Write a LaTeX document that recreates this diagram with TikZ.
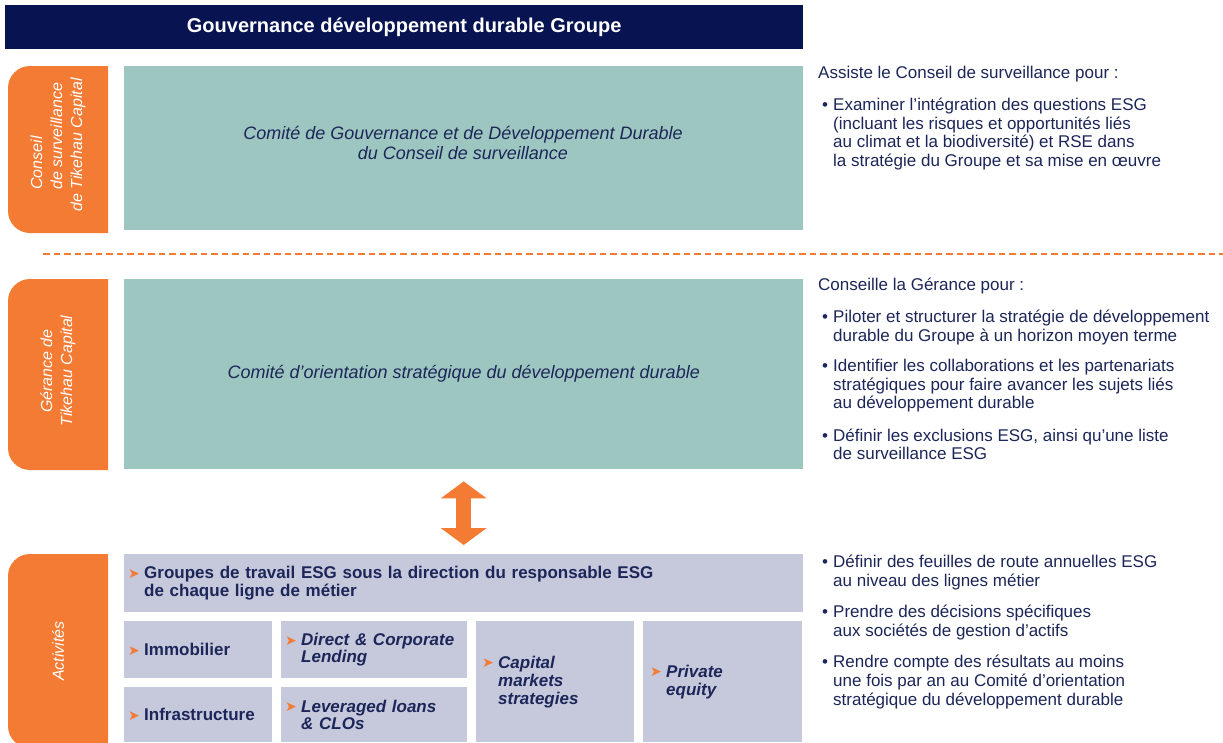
\documentclass[tikz,border=0pt]{standalone}
\usepackage{fontspec}
\setmainfont{Liberation Sans}
\newfontfamily\dejavu{DejaVu Sans}
\usetikzlibrary{arrows.meta}
\definecolor{navy}{RGB}{8,20,82}
\definecolor{torange}{RGB}{244,123,52}
\definecolor{tealbg}{RGB}{158,198,193}
\definecolor{lav}{RGB}{198,200,220}
\definecolor{ink}{RGB}{28,38,88}
\newcommand{\mk}{\makebox[16pt][l]{\raisebox{0.5pt}{\dejavu\fontsize{14}{14}\selectfont\color{torange}➤}}}
\newcommand{\bul}{\makebox[15pt][l]{\hspace*{4pt}•}}
\newcommand{\hind}{\hspace*{15pt}}
\begin{document}
\begin{tikzpicture}[x=1pt,y=-1pt,
  titlebar/.style={fill=navy,text=white,font=\fontsize{20}{22}\selectfont\bfseries,minimum width=798pt,minimum height=44pt,anchor=north west,inner sep=0pt},
  tealbox/.style={fill=tealbg,minimum width=679pt,anchor=north west,inner sep=0pt},
  tealtext/.style={text=ink,font=\fontsize{18}{20}\selectfont\itshape,align=center,inner sep=0pt},
  tablabel/.style={text=white,font=\fontsize{16}{20}\selectfont\itshape,rotate=90,inner sep=0pt},
  graybox/.style={fill=lav,anchor=north west,inner ysep=0pt,align=left,text=ink,font=\fontsize{17}{18}\selectfont\bfseries},
  desc/.style={text=ink,font=\fontsize{17}{18.5}\selectfont,align=left,inner sep=0pt,anchor=north west},
  sep/.style={torange,line width=2.6pt,dash pattern=on 6.5pt off 4pt},
  dblarrow/.style={torange,line width=15pt,
    {Triangle[width=46pt 0 0,length=17pt 0 0,line width=0pt]}-{Triangle[width=46pt 0 0,length=17pt 0 0,line width=0pt]}}
]
\useasboundingbox (0,0) rectangle (1223,742);
\fill[white] (0,0) rectangle (1223,742);

% title
\node[titlebar] (title) at (5,5) {Gouvernance développement durable Groupe};

% orange tabs
\begin{scope}
\clip (0,0) rectangle (108,742);
\fill[torange, rounded corners=22pt] (8,66) rectangle (140,233);
\fill[torange, rounded corners=22pt] (8,279) rectangle (140,470);
\fill[torange, rounded corners=22pt] (8,554) rectangle (140,748);
\end{scope}
\node[tablabel,align=left] (tab1) at (58,145) {\hspace*{22pt}Conseil\\\hspace*{22pt}de surveillance\\de Tikehau Capital};
\node[tablabel,align=center] (tab2) at (58,371) {Gérance de\\Tikehau Capital};
\node[tablabel] (tab3) at (58,651) {Activités};

% teal boxes
\node[tealbox,minimum height=164pt] (c1) at (124,66) {};
\node[tealtext] (c1t) at (463,143) {Comité de Gouvernance et de Développement Durable\\du Conseil de surveillance};
\node[tealbox,minimum height=190pt,tealtext] (c2) at (124,279) {Comité d’orientation stratégique du développement durable};

% separator
\draw[sep] (43,254) -- (1223,254);

% grey boxes
\node[graybox,minimum width=679pt,minimum height=58pt,text width=671pt,inner xsep=4pt] (g0) at (124,554)
  {\mk Groupes de travail ESG sous la direction du responsable ESG\\\hspace*{16pt}de chaque ligne de métier};
\node[graybox,minimum width=148pt,minimum height=57pt,text width=140pt,inner xsep=4pt] (g1) at (124,621) {\mk Immobilier};
\node[graybox,minimum width=148pt,minimum height=55pt,text width=140pt,inner xsep=4pt] (g2) at (124,687) {\mk Infrastructure};
\node[graybox,minimum width=186pt,minimum height=57pt,text width=178pt,inner xsep=4pt,font=\fontsize{17}{17}\selectfont\bfseries\itshape] (g3) at (281,621)
  {\mk Direct \& Corporate\\\hspace*{16pt}Lending};
\node[graybox,minimum width=186pt,minimum height=55pt,text width=178pt,inner xsep=4pt,font=\fontsize{17}{17}\selectfont\bfseries\itshape] (g4) at (281,687)
  {\mk Leveraged loans\\\hspace*{16pt}\& CLOs};
\node[graybox,minimum width=158pt,minimum height=121pt,text width=146pt,inner xsep=6pt,font=\fontsize{17}{18}\selectfont\bfseries\itshape] (g5) at (476,621)
  {\mk Capital\\\hspace*{16pt}markets\\\hspace*{16pt}strategies};
\node[graybox,minimum width=159pt,minimum height=121pt,text width=145pt,inner xsep=7pt,font=\fontsize{17}{18}\selectfont\bfseries\itshape] (g6) at (643,621)
  {\mk Private\\\hspace*{16pt}equity};

% arrow
\draw[dblarrow,shorten <=12pt,shorten >=9pt] (c2.south) -- (g0.north);

% descriptions
\node[desc] (d1) at (818,66) {Assiste le Conseil de surveillance pour :\\[13.5pt]
\bul Examiner l'intégration des questions ESG\\
\hind (incluant les risques et opportunités liés\\
\hind au climat et la biodiversité) et RSE dans\\
\hind la stratégie du Groupe et sa mise en œuvre};

\node[desc] (d2) at (818,278) {Conseille la Gérance pour :\\[13.5pt]
\bul Piloter et structurer la stratégie de développement\\
\hind durable du Groupe à un horizon moyen terme\\[12pt]
\bul Identifier les collaborations et les partenariats\\
\hind stratégiques pour faire avancer les sujets liés\\
\hind au développement durable\\[14pt]
\bul Définir les exclusions ESG, ainsi qu'une liste\\
\hind de surveillance ESG};

\node[desc,font=\fontsize{17}{19}\selectfont] (d3) at (818,555) {\bul Définir des feuilles de route annuelles ESG\\
\hind au niveau des lignes métier\\[12pt]
\bul Prendre des décisions spécifiques\\
\hind aux sociétés de gestion d'actifs\\[12pt]
\bul Rendre compte des résultats au moins\\
\hind une fois par an au Comité d'orientation\\
\hind stratégique du développement durable};
\end{tikzpicture}
\end{document}
